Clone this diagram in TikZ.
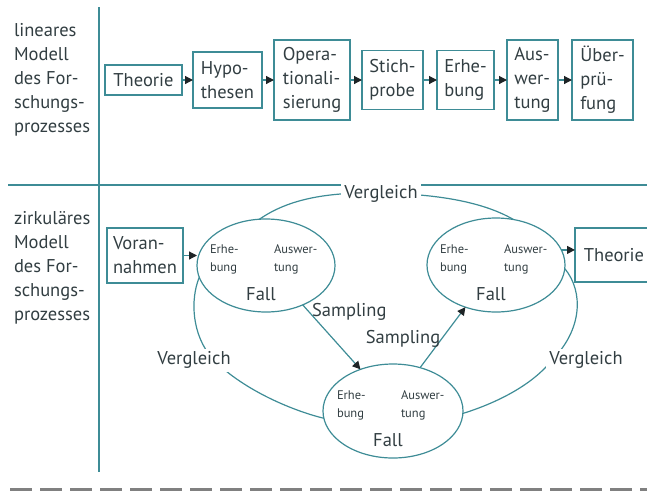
\documentclass[tikz,border=0pt]{standalone}
\usepackage{fontspec}
\setmainfont{PT Sans}
\usetikzlibrary{arrows.meta,shapes.geometric}
\definecolor{linec}{RGB}{62,140,150}
\definecolor{textc}{RGB}{50,62,66}
\definecolor{tipc}{RGB}{30,36,38}
\definecolor{dashc}{RGB}{128,128,128}
\begin{document}
\begin{tikzpicture}[x=1pt,y=-1pt,
  every node/.style={text=textc, inner sep=0pt, outer sep=0pt},
  big/.style={font=\fontsize{18.5}{24}\selectfont},
  small/.style={font=\fontsize{12.5}{18}\selectfont, align=left, anchor=west},
  stepbox/.style={big, draw=linec, line width=1.2pt, align=left, inner sep=5pt},
  ell/.style={draw=linec, line width=1.2pt, ellipse},
  arr/.style={draw=linec, line width=1.2pt, -{Triangle[length=8pt,width=8pt,color=tipc,fill=tipc]}},
  curve/.style={draw=linec, line width=1.2pt},
  lab/.style={big, fill=white, inner sep=3pt},
  side/.style={big, align=left, anchor=west}]
\useasboundingbox (0,0) rectangle (647,491);

% frame lines
\draw[linec, line width=1.8pt] (99,7) -- (99,472);
\draw[linec, line width=1.8pt] (8,185) -- (647,185);
\draw[dashc, line width=3pt, dash pattern=on 22pt off 8pt] (10,489.5) -- (647,489.5);

% row labels
\node[side] (lin) at (14,80) {lineares\\Modell\\des For-\\schungs-\\prozesses};
\node[side] (zirk) at (14,268) {zirkuläres\\Modell\\des For-\\schungs-\\prozesses};

% linear model
\node[stepbox, minimum width=77, minimum height=30] (t1) at (143.5,80) {Theorie};
\node[stepbox, minimum width=69, minimum height=56] (t2) at (227.5,80) {Hypo-\\thesen};
\node[stepbox, minimum width=76, minimum height=80] (t3) at (312,80) {Opera-\\tionali-\\sierung};
\node[stepbox, minimum width=61, minimum height=59] (t4) at (392.5,80) {Stich-\\probe};
\node[stepbox, minimum width=57, minimum height=59] (t5) at (465.5,80) {Erhe-\\bung};
\node[stepbox, minimum width=51, minimum height=80] (t6) at (532.5,80) {Aus-\\wer-\\tung};
\node[stepbox, minimum width=61, minimum height=80] (t7) at (602.5,80) {Über-\\prü-\\fung};
\foreach \a/\b in {t1/t2,t2/t3,t3/t4,t4/t5,t5/t6,t6/t7}
  \draw[arr] (\a.east) -- (\b.west);

% circular model: three cases
\node[ell, minimum width=138, minimum height=93] (L) at (266,265.5) {};
\node[ell, minimum width=138, minimum height=94] (R) at (496,265) {};
\node[ell, minimum width=140, minimum height=94] (B) at (393,411) {};
\foreach \c in {L,R,B} {
  \node[small] (\c e) at ([shift={(-56,-6)}]\c.center) {Erhe-\\bung};
  \node[small] (\c a) at ([shift={(8,-6)}]\c.center) {Auswer-\\tung};
  \node[big] (\c f) at ([shift={(-5,29)}]\c.center) {Fall};
}

\node[stepbox, minimum width=76, minimum height=55] (V) at (145,255.5) {Voran-\\nahmen};
\node[stepbox, minimum width=78, minimum height=54, anchor=west] (T) at (575,255) {Theorie};

\draw[arr] (V.east) -- (V.east -| L.west);
\draw[arr] (R.13) -- (R.13 -| T.west);

% sampling
\draw[arr] (L.-47) -- (B.128);
\node[big, anchor=west] (s1) at (312,312) {Sampling};
\draw[arr] (B.58) -- (R.-126);
\node[big] (s2) at (403,339) {Sampling};

% comparisons
\draw[curve] (L.98) .. controls (290,198) and (330,192) .. (381,193)
  .. controls (430,194) and (480,200) .. (R.69);
\node[lab] (v1) at (381,194) {Vergleich};
\draw[curve] (L.190) .. controls (190,300) and (192,335) .. (212,358)
  .. controls (240,388) and (290,410) .. (B.186);
\node[lab] (v2) at (194,360) {Vergleich};
\draw[curve] (R.-3) .. controls (584,292) and (582,330) .. (552,360)
  .. controls (530,388) and (490,405) .. (B.-2);
\node[lab] (v3) at (586,360) {Vergleich};
\end{tikzpicture}
\end{document}
